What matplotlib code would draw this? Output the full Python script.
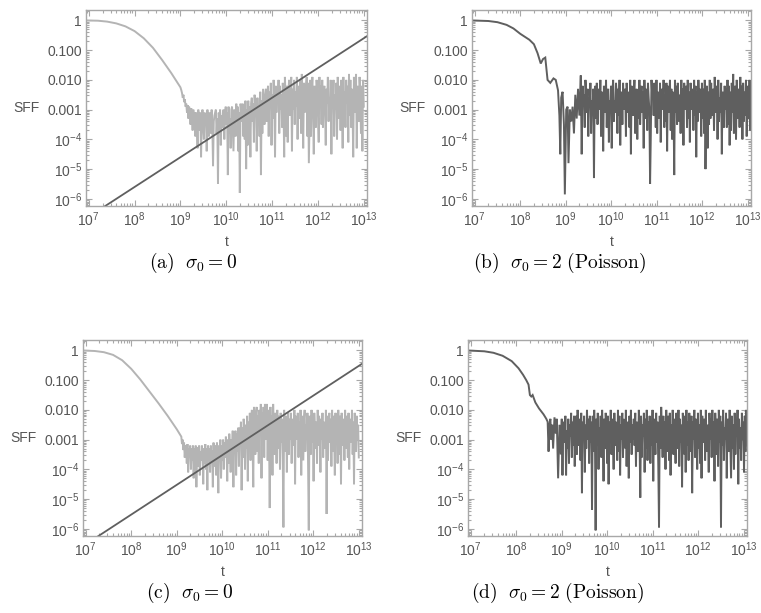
import numpy as np
import matplotlib.pyplot as plt
from matplotlib.ticker import LogLocator, NullFormatter

plt.rcParams["font.family"] = ["Liberation Sans", "DejaVu Sans"]
plt.rcParams["mathtext.fontset"] = "custom"
plt.rcParams["mathtext.rm"] = "Liberation Sans"
plt.rcParams["mathtext.it"] = "Liberation Sans:italic"
plt.rcParams["mathtext.bf"] = "Liberation Sans:bold"

# ---- data (log10 t, log10 SFF) ----
x_ticks = [7, 8, 9, 10, 11, 12, 13]
y_ticks = [0, -1, -2, -3, -4, -5, -6]
y_tick_labels = ["1", "0.100", "0.010", "0.001",
                 r"$10^{-4}$", r"$10^{-5}$", r"$10^{-6}$"]

# (a) sigma0 = 0
a_head_logt = [6.9, 7.2, 7.4, 7.6, 7.8, 8.0, 8.2, 8.4, 8.6, 8.8, 9.0]
a_head_logsff = [0.0, -0.01, -0.04, -0.1, -0.2, -0.36, -0.6, -0.92, -1.33, -1.77, -2.25]
a_noise_span = [9.02, 13.0]
a_noise_logsff = [
    -2.35, -2.45, -2.6, -2.5, -2.75, -2.65, -2.9, -2.8, -3.1, -2.85, -3.3, -2.9, -3.0, -3.5, -2.95, -3.2, -3.7, -3.0, -3.3, -3.1,
    -3.9, -3.1, -3.4, -4.3, -3.0, -3.2, -3.7, -3.1, -4.6, -3.3, -3.0, -3.6, -4.0, -3.1, -3.4, -3.2, -4.4, -3.0, -3.5, -3.9,
    -3.1, -3.3, -3.8, -3.0, -3.6, -4.9, -3.4, -3.2, -3.1, -3.0, -3.8, -3.3, -5.5, -3.1, -3.5, -3.0, -4.2, -3.2, -3.6, -3.1,
    -3.0, -4.0, -3.2, -2.9, -3.5, -3.1, -5.2, -2.9, -3.8, -3.3, -4.3, -3.0, -2.9, -3.6, -4.4, -3.0, -3.2, -3.9, -2.8, -3.4,
    -2.9, -4.4, -3.1, -5.8, -2.8, -3.0, -3.4, -2.8, -3.9, -3.1, -4.0, -2.7, -5.0, -3.0, -4.2, -2.7, -3.6, -2.9, -4.6, -2.8,
    -2.6, -3.4, -2.8, -4.1, -2.5, -3.0, -2.7, -4.4, -2.6, -3.2, -2.9, -3.9, -2.4, -5.2, -2.7, -3.8, -2.3, -2.9, -3.5, -2.5,
    -2.3, -3.4, -2.6, -2.2, -3.9, -2.4, -2.9, -2.1, -4.2, -2.5, -3.3, -2.0, -2.8, -4.6, -2.2, -3.1, -2.4, -2.7, -2.0, -3.8,
    -2.2, -3.0, -2.5, -3.6, -2.1, -2.8, -4.6, -1.9, -2.6, -3.9, -2.2, -4.1, -2.4, -2.0, -3.2, -2.7, -1.9, -4.4, -2.3, -3.0,
    -2.0, -3.5, -2.4, -2.9, -1.9, -4.0, -2.2, -2.7, -3.3, -2.0, -3.8, -1.8, -2.6, -4.3, -2.1, -3.1, -2.5, -2.2, -1.9, -3.9,
    -2.1, -4.8, -3.3, -2.0, -3.9, -2.4, -1.9, -3.0, -4.5, -2.2, -2.7, -3.6, -2.0, -2.5, -3.2, -4.1, -1.9, -2.9, -2.2, -3.5,
    -2.0, -3.6, -2.5, -2.2, -3.0, -4.2, -2.3, -2.8, -1.9, -3.4, -2.6, -3.1, -2.0, -4.5, -2.4, -2.8, -2.0, -3.9, -2.5, -3.0,
    -2.1, -4.0, -1.9, -2.7, -3.3, -2.2, -3.7, -2.0, -2.6, -4.3, -1.9, -3.0, -2.4, -3.6, -2.0, -2.8, -2.2, -4.1, -1.8, -3.2,
    -2.0, -3.6, -2.3, -2.9, -4.6, -1.9, -2.4, -3.1, -1.8, -4.3, -2.2, -2.7, -3.4, -1.9, -2.5, -3.8, -2.2, -4.4, -2.0, -2.9,
]
a_fit_logt = [7.3, 13.1]
a_fit_logsff = [-6.3, -0.5]

# (b) sigma0 = 2 (Poisson)
b_head_logt = [6.9, 7.3, 7.5, 7.7, 7.85, 8.0, 8.2, 8.3, 8.38, 8.45, 8.5, 8.55, 8.6, 8.66, 8.73, 8.78,
               8.83, 8.86, 8.88, 8.9, 8.93, 8.96, 8.98, 9.01, 9.04, 9.06, 9.09, 9.12, 9.15, 9.18,
               9.21, 9.24, 9.27, 9.3, 9.33, 9.35]
b_head_logsff = [0.0, -0.02, -0.06, -0.15, -0.27, -0.45, -0.65, -0.8, -1.1, -1.45, -1.3, -1.25, -2.0, -2.1, -1.95, -2.0,
                 -2.35, -3.2, -4.5, -2.6, -2.4, -3.5, -5.85, -3.0, -2.9, -4.8, -3.0, -3.4, -2.9, -3.8,
                 -2.5, -3.3, -2.3, -3.2, -1.85, -4.5]
b_noise_span = [9.37, 13.1]
b_noise_logsff = [
    -2.2, -2.9, -2.5, -3.6, -2.0, -2.4, -3.1, -2.3, -3.9, -2.6, -2.9, -2.1, -3.8, -2.7, -3.1, -2.3, -5.3, -2.5, -2.2, -3.3,
    -2.1, -3.5, -2.6, -2.3, -3.0, -2.0, -3.9, -2.4, -2.8, -4.4, -2.2, -2.6, -3.1, -2.0, -3.6, -2.5, -2.3, -4.1, -2.7, -3.0,
    -2.2, -4.3, -2.4, -2.0, -3.4, -2.7, -3.1, -2.1, -2.5, -3.8, -2.3, -3.2, -2.0, -4.2, -2.6, -2.4, -3.5, -2.1, -3.0, -2.6,
    -2.3, -3.9, -2.1, -2.7, -3.1, -2.4, -3.6, -2.0, -4.5, -2.2, -2.9, -3.2, -2.5, -2.0, -3.8, -2.6, -2.3, -4.0, -2.4, -3.3,
    -2.0, -3.5, -2.6, -2.2, -3.1, -2.4, -4.3, -2.0, -2.8, -3.3, -2.3, -3.7, -2.1, -2.6, -3.0, -5.5, -3.9, -2.0, -2.5, -2.3,
    -3.2, -2.1, -2.6, -3.6, -2.0, -3.8, -2.4, -2.8, -3.3, -2.1, -4.1, -2.3, -2.7, -3.0, -2.0, -3.6, -2.5, -3.4, -2.1, -4.4,
    -2.2, -3.1, -2.6, -2.0, -3.7, -2.3, -4.0, -2.4, -2.9, -5.2, -2.0, -3.1, -2.2, -3.5, -2.1, -2.7, -3.4, -2.5, -3.8, -2.0,
    -3.2, -2.3, -4.2, -2.1, -2.8, -3.0, -2.2, -3.6, -2.0, -3.3, -2.4, -4.1, -2.1, -2.6, -3.0, -2.3, -3.7, -2.0, -3.2, -2.2,
    -4.6, -2.4, -3.4, -2.0, -2.7, -3.1, -2.3, -3.9, -2.1, -3.3, -2.3, -3.8, -2.0, -5.0, -3.0, -2.2, -4.3, -2.4, -3.5, -2.0,
    -3.3, -2.1, -3.2, -2.6, -2.3, -3.7, -1.9, -3.1, -2.5, -2.2, -4.0, -2.0, -3.4, -2.6, -3.1, -2.1, -4.5, -2.4, -2.8, -3.6,
    -2.2, -3.0, -2.3, -3.6, -2.0, -3.5, -2.2, -4.2, -2.4, -3.7, -2.1, -3.1, -1.8, -3.8, -2.5, -2.2, -4.0, -2.0, -3.3, -2.6,
    -2.3, -3.6, -1.9, -3.0, -2.2, -4.0, -2.1, -3.4, -2.4, -3.2, -2.0, -3.9, -2.6, -2.2, -3.3, -2.0, -3.7, -2.1, -2.9, -3.4,
]

# (c) sigma0 = 0
c_head_logt = [6.9, 7.2, 7.4, 7.6, 7.8, 8.0, 8.2, 8.4, 8.6, 8.8, 9.0, 9.08]
c_head_logsff = [0.0, -0.02, -0.06, -0.15, -0.33, -0.62, -0.98, -1.38, -1.78, -2.2, -2.65, -2.85]
c_noise_span = [9.1, 13.0]
c_noise_logsff = [
    -2.9, -3.15, -3.0, -3.35, -3.1, -3.6, -3.2, -3.3, -3.8, -3.15, -4.1, -3.3, -3.45, -3.2, -4.0, -3.3, -3.7, -3.2, -4.3, -3.3,
    -3.6, -3.2, -4.6, -3.4, -3.25, -3.9, -3.2, -4.2, -3.4, -3.7, -3.2, -3.5, -4.5, -3.3, -3.8, -3.15, -4.0, -3.3, -4.7, -3.2,
    -3.6, -3.3, -4.1, -3.2, -3.7, -3.35, -4.6, -3.1, -3.9, -3.3, -3.2, -4.2, -3.1, -3.6, -4.8, -3.2, -3.4, -3.0, -4.3, -3.2,
    -3.7, -3.0, -4.0, -3.1, -3.6, -2.9, -3.2, -4.4, -3.0, -3.8, -2.8, -3.3, -4.1, -3.0, -3.5, -2.7, -4.6, -2.9, -3.2, -2.7,
    -4.2, -2.8, -3.4, -2.6, -3.9, -2.6, -3.1, -2.4, -4.7, -2.6, -3.6, -2.3, -2.8, -4.0, -2.5, -3.3, -2.2, -4.4, -2.4, -3.0,
    -2.1, -3.7, -2.3, -2.0, -3.2, -4.6, -1.9, -2.6, -3.5, -2.1, -1.9, -3.4, -2.2, -3.8, -2.0, -2.7, -1.8, -4.3, -2.1, -3.0,
    -1.9, -3.6, -1.8, -2.5, -3.0, -1.8, -3.7, -2.0, -2.8, -5.3, -1.9, -3.1, -2.2, -4.2, -1.8, -2.9, -3.5, -2.1, -2.4, -3.8,
    -2.0, -3.3, -2.2, -2.6, -4.0, -2.1, -3.1, -2.3, -3.6, -5.95, -2.0, -2.7, -3.4, -2.2, -4.1, -2.4, -2.1, -3.5, -2.3, -3.0,
    -2.1, -3.8, -2.3, -2.7, -3.2, -2.0, -4.5, -2.2, -3.0, -2.6, -2.1, -3.6, -2.4, -3.3, -2.0, -4.2, -2.2, -2.9, -3.7, -2.3,
    -2.0, -3.4, -2.5, -3.0, -2.1, -3.9, -6.05, -2.2, -2.8, -3.5, -2.0, -3.1, -2.3, -4.4, -2.1, -2.7, -3.3, -2.4, -3.8, -2.0,
    -3.2, -2.2, -2.6, -4.1, -2.3, -3.0, -2.1, -3.6, -2.4, -2.8, -3.3, -2.0, -5.5, -2.2, -3.7, -2.5, -2.1, -3.1, -2.3, -3.9,
    -2.0, -3.4, -2.2, -2.7, -4.2, -2.1, -3.0, -2.3, -3.8, -2.0, -2.6, -3.5, -2.2, -4.5, -2.1, -2.9, -3.2, -2.3, -3.7, -2.0,
    -3.3, -2.2, -2.6, -3.6, -2.1, -4.0, -2.3, -2.8, -3.1, -2.0, -3.5, -2.4, -4.5, -2.1, -2.7, -3.4, -2.2, -3.0, -2.5, -3.6,
]
c_fit_logt = [7.1, 13.1]
c_fit_logsff = [-6.42, -0.42]

# (d) sigma0 = 2 (Poisson)
d_head_logt = [6.9, 7.3, 7.5, 7.7, 7.9, 8.05, 8.15, 8.22, 8.27, 8.3, 8.33, 8.36, 8.42, 8.5, 8.6, 8.66,
               8.69, 8.71, 8.73, 8.75, 8.77, 8.79, 8.81, 8.84, 8.87, 8.89, 8.92, 8.95, 8.98]
d_head_logsff = [0.0, -0.03, -0.08, -0.18, -0.36, -0.6, -0.82, -1.0, -1.15, -1.5, -1.55, -1.5, -1.75, -1.95, -2.15, -2.3,
                 -2.4, -3.4, -2.5, -2.3, -3.0, -2.5, -3.3, -2.25, -2.8, -2.3, -4.3, -2.5, -3.5]
d_noise_span = [9.0, 13.1]
d_noise_logsff = [
    -2.3, -4.2, -2.6, -2.4, -3.1, -2.2, -4.2, -2.7, -3.3, -2.3, -3.8, -2.5, -2.9, -2.1, -3.6, -2.4, -3.2, -2.2, -3.9, -2.6,
    -2.2, -3.5, -2.0, -2.8, -3.2, -2.3, -3.7, -2.1, -4.8, -2.4, -2.9, -2.2, -4.1, -2.5, -3.3, -2.0, -3.0, -2.3, -3.8, -2.2,
    -3.1, -2.4, -5.35, -2.2, -3.4, -2.0, -2.7, -6.05, -2.3, -3.2, -2.1, -4.0, -2.6, -3.0, -2.2, -3.6, -2.0, -2.8, -4.4, -2.3,
    -3.3, -2.1, -2.6, -3.8, -2.2, -4.5, -2.4, -3.1, -2.0, -3.5, -2.3, -2.7, -4.0, -2.1, -3.2, -2.4, -2.9, -3.7, -2.0, -3.4,
    -2.2, -4.2, -2.5, -3.0, -2.1, -3.6, -2.3, -2.8, -3.3, -2.0, -3.9, -2.4, -2.6, -4.3, -2.2, -3.1, -2.0, -3.5, -2.5, -3.0,
    -2.3, -3.2, -2.1, -3.9, -2.4, -2.7, -3.4, -2.0, -3.0, -4.95, -2.2, -3.6, -2.5, -2.9, -2.1, -4.1, -2.3, -3.3, -2.0, -3.7,
    -2.4, -3.0, -2.2, -3.8, -2.6, -3.2, -2.0, -4.4, -2.3, -2.8, -3.5, -2.1, -3.1, -2.4, -3.9, -5.95, -2.2, -3.3, -1.9, -2.7,
    -3.6, -2.2, -3.1, -2.4, -4.0, -2.0, -2.8, -3.4, -2.2, -3.7, -2.1, -4.2, -2.5, -3.0, -2.0, -3.5, -2.3, -2.9, -3.8, -2.1,
    -2.6, -3.3, -2.0, -3.9, -2.3, -3.1, -2.5, -4.6, -2.1, -2.8, -3.5, -2.2, -4.1, -2.0, -3.2, -2.4, -3.7, -2.1, -2.9, -3.4,
    -2.2, -4.8, -2.4, -3.0, -2.0, -3.6, -2.3, -2.7, -4.0, -2.1, -3.3, -2.5, -3.8, -2.0, -4.3, -2.2, -2.9, -3.1, -2.3, -3.7,
    -2.0, -3.4, -2.5, -2.8, -4.1, -2.1, -3.0, -2.3, -3.6, -2.0, -3.2, -2.4, -4.4, -2.1, -2.7, -3.5, -2.3, -3.9, -2.0, -3.1,
    -2.2, -5.95, -2.4, -3.2, -2.0, -3.7, -2.6, -3.0, -2.1, -4.3, -2.3, -2.8, -3.4, -2.0, -3.1, -4.3, -2.2, -3.3, -2.5, -4.0,
    -2.1, -3.5, -2.4, -2.9, -2.0, -4.5, -2.3, -3.3, -2.6, -3.7, -2.1, -3.0, -2.4, -4.1, -2.2, -3.4, -2.0, -3.2, -2.5, -3.6,
]

LIGHT = "#b4b4b4"
DARK = "#5f5f5f"
FRAME = "#a8a8a8"
LABEL = "#555555"

W, H = 761, 613
fig = plt.figure(figsize=(W / 100, H / 100), dpi=100)


def panel(box, head_t, head_s, span, noise, color, caption, cap_x, fit=None):
    left, top, right, bottom = box
    ax = fig.add_axes([left / W, 1 - bottom / H, (right - left) / W, (bottom - top) / H])
    lt = np.concatenate([head_t, np.linspace(span[0], span[1], len(noise))])
    ls = np.concatenate([head_s, noise])
    ax.plot(10.0 ** lt, 10.0 ** ls, color=color, lw=1.4, solid_joinstyle="miter")
    if fit is not None:
        ax.plot(10.0 ** np.array(fit[0]), 10.0 ** np.array(fit[1]), color=DARK, lw=1.3)
    ax.set_xscale("log")
    ax.set_yscale("log")
    ax.set_xlim(10 ** 6.94, 10 ** 13.07)
    ax.set_ylim(10 ** -6.24, 10 ** 0.35)
    ax.set_xticks([10.0 ** k for k in x_ticks])
    ax.set_xticklabels([r"$10^{%d}$" % k for k in x_ticks])
    ax.set_yticks([10.0 ** k for k in y_ticks])
    ax.set_yticklabels(y_tick_labels)
    ax.xaxis.set_minor_locator(LogLocator(base=10, subs=range(2, 10), numticks=50))
    ax.yaxis.set_minor_locator(LogLocator(base=10, subs=range(2, 10), numticks=50))
    ax.xaxis.set_minor_formatter(NullFormatter())
    ax.yaxis.set_minor_formatter(NullFormatter())
    ax.tick_params(which="both", direction="in", top=True, right=True,
                   color=FRAME, labelcolor=LABEL, labelsize=10, width=0.8)
    ax.tick_params(which="major", length=4, pad=3)
    ax.tick_params(which="minor", length=2)
    for sp in ax.spines.values():
        sp.set_color(FRAME)
        sp.set_linewidth(1.0)
    ax.text(-0.165, 0.5, "SFF", transform=ax.transAxes, ha="right", va="center",
            fontsize=10, color=LABEL)
    fig.text((left + right) / 2 / W, 1 - (bottom + 36) / H, "t", ha="center", va="center",
             fontsize=10, color=LABEL)
    fig.text(cap_x / W, 1 - (bottom + 57) / H, caption, ha="center", va="center",
             fontsize=14, math_fontfamily="cm")
    return ax


panel((86, 10, 367, 206), a_head_logt, a_head_logsff, a_noise_span, a_noise_logsff,
      LIGHT, r"$\mathrm{(a)}\ \ \sigma_0 = 0$", 193, fit=(a_fit_logt, a_fit_logsff))
panel((472, 10, 751, 206), b_head_logt, b_head_logsff, b_noise_span, b_noise_logsff,
      DARK, r"$\mathrm{(b)}\ \ \sigma_0 = 2\ \mathrm{(Poisson)}$", 560)
panel((83, 340, 362, 536), c_head_logt, c_head_logsff, c_noise_span, c_noise_logsff,
      LIGHT, r"$\mathrm{(c)}\ \ \sigma_0 = 0$", 190, fit=(c_fit_logt, c_fit_logsff))
panel((468, 340, 747, 536), d_head_logt, d_head_logsff, d_noise_span, d_noise_logsff,
      DARK, r"$\mathrm{(d)}\ \ \sigma_0 = 2\ \mathrm{(Poisson)}$", 558)

fig.savefig("out.png", dpi=100)
